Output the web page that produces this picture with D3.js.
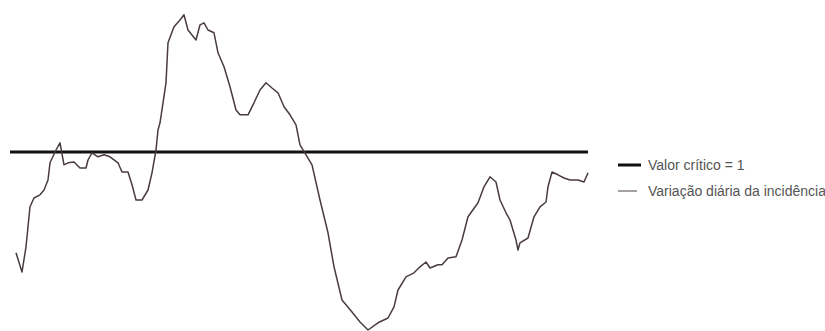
<!DOCTYPE html>
<html>
<head>
<meta charset="utf-8">
<script src="https://cdn.jsdelivr.net/npm/d3@7"></script>
<style>
  html, body { margin: 0; padding: 0; background: #fff; }
  svg { display: block; }
</style>
</head>
<body>
<svg id="chart" width="825" height="331"></svg>
<script>
// Day index of each observation
const days = [0, 3, 5, 7, 9, 12, 14, 16, 17, 20, 22, 24, 26, 29, 32, 35, 36, 38, 41, 44,
  47, 51, 53, 56, 58, 60, 63, 66, 68, 70, 71, 72, 75, 76, 79, 82, 84, 86, 90, 92,
  94, 96, 99, 101, 104, 107, 110, 112, 116, 119, 122, 125, 128, 131, 134, 137, 140, 142, 145, 148,
  152, 156, 159, 163, 168, 172, 176, 181, 186, 189, 191, 195, 199, 202, 205, 207, 211, 213, 216, 220,
  223, 226, 231, 234, 237, 240, 242, 245, 247, 250, 251, 252, 256, 259, 262, 265, 266, 268, 271, 274,
  277, 281, 284, 286];

// Daily variation of incidence (ratio)
const variation = [0.748, 0.700, 0.763, 0.863, 0.885, 0.893, 0.905, 0.930, 0.973, 1.005, 1.023, 0.968, 0.973, 0.975, 0.960, 0.960, 0.980, 0.998, 0.988, 0.993,
  0.988, 0.973, 0.950, 0.950, 0.918, 0.880, 0.880, 0.905, 0.948, 1.005, 1.055, 1.073, 1.173, 1.273, 1.313, 1.330, 1.343, 1.305, 1.280, 1.318,
  1.323, 1.305, 1.298, 1.248, 1.213, 1.163, 1.105, 1.093, 1.093, 1.123, 1.155, 1.173, 1.160, 1.148, 1.113, 1.093, 1.068, 1.018, 0.993, 0.968,
  0.880, 0.798, 0.713, 0.630, 0.600, 0.575, 0.555, 0.573, 0.585, 0.613, 0.655, 0.688, 0.698, 0.713, 0.725, 0.710, 0.718, 0.718, 0.735, 0.738,
  0.780, 0.838, 0.873, 0.913, 0.938, 0.925, 0.880, 0.848, 0.830, 0.780, 0.755, 0.773, 0.785, 0.838, 0.863, 0.875, 0.913, 0.950, 0.943, 0.935,
  0.930, 0.930, 0.925, 0.948];

// Threshold value
const criticalValue = 1;

// Legend entries
const legendLabels = ["Valor crítico = 1", "Variação diária da incidência"];

const svg = d3.select("#chart");

const x = d3.scaleLinear().domain([0, 286]).range([16, 588]);
const y = d3.scaleLinear().domain([0.55, 1.38]).range([332, 0]);

const seriesColor = "#4a3c3c";
const thresholdColor = "#111111";

// Threshold line
svg.append("line")
  .attr("x1", x(-3))
  .attr("x2", x(286))
  .attr("y1", y(criticalValue))
  .attr("y2", y(criticalValue))
  .attr("stroke", thresholdColor)
  .attr("stroke-width", 3);

// Series line
const pts = days.map((d, i) => [d, variation[i]]);
svg.append("path")
  .datum(pts)
  .attr("fill", "none")
  .attr("stroke", seriesColor)
  .attr("stroke-width", 1.5)
  .attr("stroke-linejoin", "round")
  .attr("d", d3.line().x(d => x(d[0])).y(d => y(d[1])));

// Legend
const legend = svg.append("g").attr("transform", "translate(618,165)");
const legendStyles = [
  { color: thresholdColor, width: 3 },
  { color: "#8a8080", width: 1.5 }
];
legendLabels.forEach((label, i) => {
  const g = legend.append("g").attr("transform", `translate(0,${i * 26})`);
  g.append("line")
    .attr("x1", 0).attr("x2", i === 0 ? 23 : 19)
    .attr("y1", 0).attr("y2", 0)
    .attr("stroke", legendStyles[i].color)
    .attr("stroke-width", legendStyles[i].width);
  g.append("text")
    .attr("x", 30)
    .attr("y", 0)
    .attr("dy", "0.35em")
    .attr("font-family", "Liberation Sans, Arial, sans-serif")
    .attr("font-size", 14)
    .attr("fill", "#555")
    .text(label);
});
</script>
</body>
</html>
